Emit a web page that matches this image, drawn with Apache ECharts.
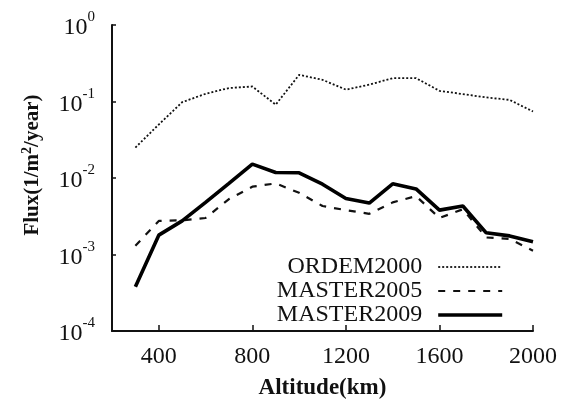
<!DOCTYPE html>
<html>
<head>
<meta charset="utf-8">
<script src="https://cdn.jsdelivr.net/npm/echarts@6/dist/echarts.min.js"></script>
<style>
html,body{margin:0;padding:0;background:#fff;}
#c{width:561px;height:405px;}
</style>
</head>
<body>
<div id="c"></div>
<script>
var altitudes = [300,400,500,600,700,800,900,1000,1100,1200,1300,1400,1500,1600,1700,1800,1900,2000];
var ordem2000 = [0.025,0.050,0.098,0.126,0.150,0.157,0.091,0.223,0.192,0.143,0.166,0.202,0.202,0.138,0.125,0.113,0.105,0.074];
var master2005 = [0.0013,0.00275,0.0028,0.0030,0.0053,0.0077,0.0085,0.0064,0.0043,0.0038,0.0034,0.0048,0.0058,0.0030,0.0039,0.00167,0.0016,0.00112];
var master2009 = [0.00038,0.00179,0.00275,0.0048,0.0085,0.0152,0.0118,0.0117,0.0083,0.0054,0.0047,0.0084,0.0072,0.0038,0.0043,0.00192,0.00175,0.00147];
var xTicks = [400,800,1200,1600,2000];
var seriesNames = ['ORDEM2000','MASTER2005','MASTER2009'];

function pairs(ys){ return altitudes.map(function(x,i){ return [x, ys[i]]; }); }

var FONT = 'Liberation Serif';
var styles = [
  {color:'#111',width:1.8,type:[2,2]},
  {color:'#111',width:2.2,type:[7,8]},
  {color:'#000',width:3.6,type:'solid'}
];
var chart = echarts.init(document.getElementById('c'), null, {renderer:'canvas'});
chart.setOption({
  animation:false,
  backgroundColor:'#fff',
  grid:{left:112,right:28,top:25,bottom:73,containLabel:false},
  xAxis:{
    type:'value', min:200, max:2000,
    name:'Altitude(km)', nameLocation:'middle', nameGap:46,
    nameTextStyle:{fontFamily:FONT,fontSize:23,fontWeight:'bold',color:'#111'},
    axisLine:{show:true,lineStyle:{color:'#111',width:2}},
    axisTick:{show:true,inside:true,length:6,customValues:xTicks,lineStyle:{color:'#111',width:1.5}},
    axisLabel:{customValues:xTicks,margin:14,fontFamily:FONT,fontSize:24,color:'#111',
      formatter:function(v){ return String(v); }},
    splitLine:{show:false}
  },
  yAxis:{
    type:'log', logBase:10, min:1e-4, max:1,
    name:'Flux(1/m{s|2}/year)', nameLocation:'middle', nameGap:66,
    nameTextStyle:{fontFamily:FONT,fontSize:21,fontWeight:'bold',color:'#111',padding:[0,0,0,26],
      rich:{s:{fontFamily:FONT,fontSize:14,fontWeight:'bold',color:'#111',verticalAlign:'top',lineHeight:26}}},
    axisLine:{show:true,lineStyle:{color:'#111',width:2}},
    axisTick:{show:true,inside:true,length:4,lineStyle:{color:'#111',width:1.5}},
    minorTick:{show:false},
    splitLine:{show:false},
    axisLabel:{
      margin:17,
      formatter:function(v){ var e=Math.round(Math.log10(v)); return '{b|10}{s|'+e+'}'; },
      rich:{
        b:{fontFamily:FONT,fontSize:24,color:'#111',verticalAlign:'bottom',lineHeight:30},
        s:{fontFamily:FONT,fontSize:15,color:'#111',verticalAlign:'top',lineHeight:30}
      }
    }
  },
  legend:{
    orient:'vertical', right:52, top:250, align:'right',
    itemWidth:64, itemHeight:10, itemGap:0,
    data:seriesNames.map(function(n,i){
      return {name:n, lineStyle:{color:styles[i].color,width:styles[i].width,type:styles[i].type}};
    }),
    itemStyle:{opacity:0},
    textStyle:{fontFamily:FONT,fontSize:24,color:'#111',lineHeight:24,padding:[0,11,0,0]}
  },
  series:[
    {name:seriesNames[0],type:'line',data:pairs(ordem2000),symbol:'none',lineStyle:styles[0],z:2},
    {name:seriesNames[1],type:'line',data:pairs(master2005),symbol:'none',lineStyle:styles[1],z:3},
    {name:seriesNames[2],type:'line',data:pairs(master2009),symbol:'none',lineStyle:styles[2],z:4}
  ]
});
</script>
</body>
</html>
